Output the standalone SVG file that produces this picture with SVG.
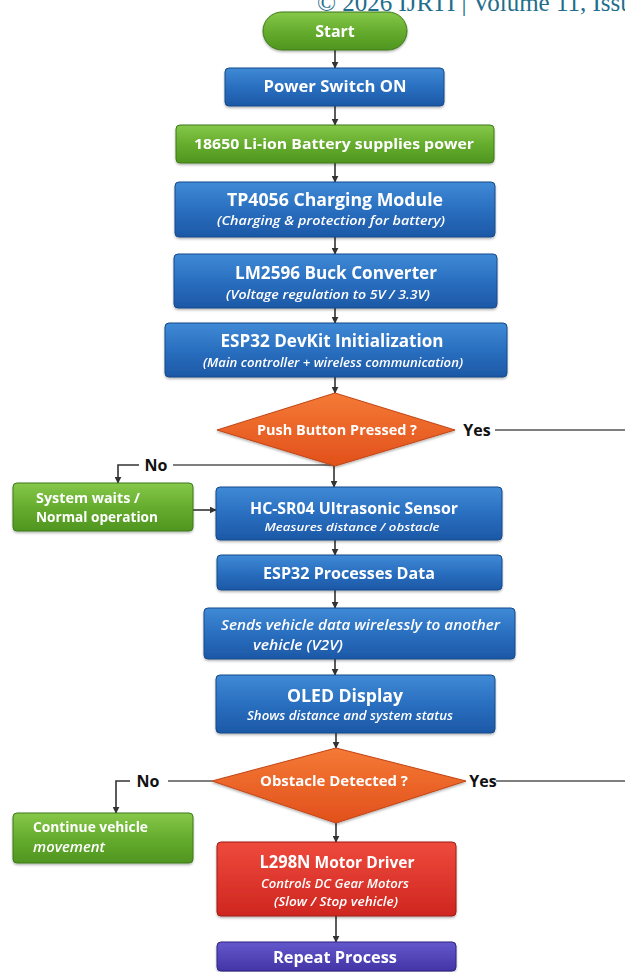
<svg xmlns="http://www.w3.org/2000/svg" width="625" height="972" viewBox="0 0 625 972">
<defs>
<linearGradient id="gBlue" x1="0" y1="0" x2="0" y2="1"><stop offset="0" stop-color="#3f8ad6"/><stop offset="0.5" stop-color="#2a6fc0"/><stop offset="1" stop-color="#1c58a6"/></linearGradient>
<linearGradient id="gGreen" x1="0" y1="0" x2="0" y2="1"><stop offset="0" stop-color="#86c84a"/><stop offset="0.5" stop-color="#66ad2e"/><stop offset="1" stop-color="#4f9520"/></linearGradient>
<linearGradient id="gOrange" x1="0" y1="0" x2="0" y2="1"><stop offset="0" stop-color="#f47a35"/><stop offset="1" stop-color="#e2501c"/></linearGradient>
<linearGradient id="gRed" x1="0" y1="0" x2="0" y2="1"><stop offset="0" stop-color="#ee4a3c"/><stop offset="1" stop-color="#cf2620"/></linearGradient>
<linearGradient id="gPurple" x1="0" y1="0" x2="0" y2="1"><stop offset="0" stop-color="#6458cc"/><stop offset="1" stop-color="#4334a6"/></linearGradient>
<marker id="arr" viewBox="0 0 10 10" refX="9" refY="5" markerWidth="7" markerHeight="7" orient="auto" markerUnits="userSpaceOnUse"><path d="M0,0 L10,5 L0,10 z" fill="#333"/></marker>
<filter id="sh" x="-10%" y="-10%" width="120%" height="130%"><feDropShadow dx="0" dy="1.5" stdDeviation="1.2" flood-color="#000" flood-opacity="0.3"/></filter>
</defs>
<style>
.blue{fill:url(#gBlue);stroke:#174a8a;stroke-width:1}
.green{fill:url(#gGreen);stroke:#3d7a18;stroke-width:1}
.orange{fill:url(#gOrange);stroke:#c24414;stroke-width:1}
.red{fill:url(#gRed);stroke:#9e1c16;stroke-width:1}
.purple{fill:url(#gPurple);stroke:#2f2580;stroke-width:1}
.t{font-family:"Open Sans","Liberation Sans",sans-serif;font-weight:700;fill:#fff;text-anchor:middle}
.s{font-family:"Open Sans","Liberation Sans",sans-serif;font-weight:600;font-style:italic;fill:#fff;text-anchor:middle}
.l{font-family:"Open Sans","Liberation Sans",sans-serif;font-weight:700;fill:#111;text-anchor:middle}
.c{fill:none;stroke:#333;stroke-width:1.6}
.g{fill:none;stroke:#555;stroke-width:1.4}
</style>
<text x="317" y="11" font-family="Liberation Serif, serif" font-size="25" fill="#1f6e8c">© 2026 IJRTI | Volume 11, Issue</text>

<g id="connectors">
<line class="c" x1="335" y1="50" x2="335" y2="68" marker-end="url(#arr)"/>
<line class="c" x1="335" y1="106" x2="335" y2="125" marker-end="url(#arr)"/>
<line class="c" x1="335" y1="163" x2="335" y2="182" marker-end="url(#arr)"/>
<line class="c" x1="335" y1="237" x2="335" y2="254" marker-end="url(#arr)"/>
<line class="c" x1="335" y1="308" x2="335" y2="323" marker-end="url(#arr)"/>
<line class="c" x1="335" y1="377" x2="335" y2="393" marker-end="url(#arr)"/>
<line class="c" x1="334" y1="466" x2="334" y2="487" marker-end="url(#arr)"/>
<line class="g" x1="495" y1="430" x2="625" y2="430"/>
<line class="g" x1="173" y1="465" x2="333" y2="465"/>
<polyline class="c" points="139,465 118,465 118,483" marker-end="url(#arr)"/>
<line class="c" x1="193" y1="510" x2="216" y2="510" marker-end="url(#arr)"/>
<line class="c" x1="335" y1="540" x2="335" y2="555" marker-end="url(#arr)"/>
<line class="c" x1="335" y1="590" x2="335" y2="608" marker-end="url(#arr)"/>
<line class="c" x1="335" y1="659" x2="335" y2="675" marker-end="url(#arr)"/>
<line class="c" x1="336" y1="733" x2="336" y2="748" marker-end="url(#arr)"/>
<line class="g" x1="496" y1="781" x2="625" y2="781"/>
<line class="g" x1="168" y1="781" x2="212" y2="781"/>
<polyline class="c" points="130,781 116,781 116,813" marker-end="url(#arr)"/>
<line class="c" x1="336" y1="823" x2="336" y2="842" marker-end="url(#arr)"/>
<line class="c" x1="336" y1="916" x2="336" y2="942" marker-end="url(#arr)"/>
<text class="l" x="477" y="436" font-size="16">Yes</text>
<text class="l" x="156" y="471" font-size="16">No</text>
<text class="l" x="483" y="787" font-size="16">Yes</text>
<text class="l" x="148" y="787" font-size="16">No</text>
</g>

<g id="start" filter="url(#sh)"><rect class="green" x="263" y="12" width="144" height="38" rx="19"/><text class="t" x="335" y="37" font-size="16">Start</text></g>
<g id="power" filter="url(#sh)"><rect class="blue" x="225" y="68" width="219" height="38" rx="4"/><text class="t" x="335" y="92" font-size="15.5" textLength="143" lengthAdjust="spacingAndGlyphs">Power Switch ON</text></g>
<g id="battery" filter="url(#sh)"><rect class="green" x="176" y="125" width="318" height="38" rx="4"/><text class="t" x="334" y="149" font-size="14.5" textLength="280" lengthAdjust="spacingAndGlyphs">18650 Li-ion Battery supplies power</text></g>
<g id="tp4056" filter="url(#sh)"><rect class="blue" x="175" y="182" width="320" height="55" rx="4"/><text class="t" x="335" y="206" font-size="17" textLength="216" lengthAdjust="spacingAndGlyphs">TP4056 Charging Module</text><text class="s" x="331" y="225" font-size="12" textLength="228" lengthAdjust="spacingAndGlyphs">(Charging &amp; protection for battery)</text></g>
<g id="lm2596" filter="url(#sh)"><rect class="blue" x="174" y="254" width="323" height="54" rx="4"/><text class="t" x="336" y="279" font-size="17.5" textLength="202" lengthAdjust="spacingAndGlyphs">LM2596 Buck Converter</text><text class="s" x="328" y="299" font-size="12.5" textLength="204" lengthAdjust="spacingAndGlyphs">(Voltage regulation to 5V / 3.3V)</text></g>
<g id="esp32init" filter="url(#sh)"><rect class="blue" x="165" y="323" width="342" height="54" rx="4"/><text class="t" x="332" y="347" font-size="17.5" textLength="223" lengthAdjust="spacingAndGlyphs">ESP32 DevKit Initialization</text><text class="s" x="333" y="367" font-size="12" textLength="260" lengthAdjust="spacingAndGlyphs">(Main controller + wireless communication)</text></g>
<g id="pushbutton" filter="url(#sh)"><polygon class="orange" points="335,393 455,430 335,466 217,430"/><text class="t" x="337" y="435" font-size="14" textLength="160" lengthAdjust="spacingAndGlyphs">Push Button Pressed ?</text></g>
<g id="systemwaits" filter="url(#sh)"><rect class="green" x="13" y="483" width="180" height="48" rx="4"/><text class="t" x="36" y="503" font-size="14.5" style="text-anchor:start" textLength="104" lengthAdjust="spacingAndGlyphs">System waits /</text><text class="t" x="36" y="522" font-size="14.5" style="text-anchor:start" textLength="122" lengthAdjust="spacingAndGlyphs">Normal operation</text></g>
<g id="hcsr04" filter="url(#sh)"><rect class="blue" x="216" y="487" width="286" height="53" rx="4"/><text class="t" x="354" y="514" font-size="16.5" textLength="208" lengthAdjust="spacingAndGlyphs">HC-SR04 Ultrasonic Sensor</text><text class="s" x="352" y="531" font-size="11.5" textLength="175" lengthAdjust="spacingAndGlyphs">Measures distance / obstacle</text></g>
<g id="esp32proc" filter="url(#sh)"><rect class="blue" x="217" y="555" width="285" height="35" rx="4"/><text class="t" x="349" y="579" font-size="16" textLength="172" lengthAdjust="spacingAndGlyphs">ESP32 Processes Data</text></g>
<g id="sends" filter="url(#sh)"><rect class="blue" x="204" y="608" width="311" height="51" rx="4"/><text class="s" x="221" y="630" font-size="14" style="text-anchor:start" textLength="279" lengthAdjust="spacingAndGlyphs">Sends vehicle data wirelessly to another</text><text class="s" x="253" y="650" font-size="14" style="text-anchor:start" textLength="90" lengthAdjust="spacingAndGlyphs">vehicle (V2V)</text></g>
<g id="oled" filter="url(#sh)"><rect class="blue" x="216" y="675" width="279" height="58" rx="4"/><text class="t" x="345" y="702" font-size="18" textLength="116" lengthAdjust="spacingAndGlyphs">OLED Display</text><text class="s" x="350" y="720" font-size="12" textLength="206" lengthAdjust="spacingAndGlyphs">Shows distance and system status</text></g>
<g id="obstacle" filter="url(#sh)"><polygon class="orange" points="336,748 466,781 336,823 212,781"/><text class="t" x="334" y="786" font-size="14" textLength="148" lengthAdjust="spacingAndGlyphs">Obstacle Detected ?</text></g>
<g id="continue" filter="url(#sh)"><rect class="green" x="13" y="813" width="180" height="50" rx="4"/><text class="t" x="33" y="832" font-size="14.5" style="text-anchor:start" textLength="115" lengthAdjust="spacingAndGlyphs">Continue vehicle</text><text class="s" x="33" y="852" font-size="14.5" style="text-anchor:start" textLength="72" lengthAdjust="spacingAndGlyphs">movement</text></g>
<g id="l298n" filter="url(#sh)"><rect class="red" x="217" y="842" width="239" height="74" rx="4"/><text class="t" x="337" y="868" font-size="16" textLength="155" lengthAdjust="spacingAndGlyphs"><tspan font-size="17">L298N</tspan> Motor Driver</text><text class="s" x="335" y="888" font-size="12" textLength="148" lengthAdjust="spacingAndGlyphs">Controls DC Gear Motors</text><text class="s" x="336" y="906" font-size="12" textLength="124" lengthAdjust="spacingAndGlyphs">(Slow / Stop vehicle)</text></g>
<g id="repeat" filter="url(#sh)"><rect class="purple" x="217" y="942" width="239" height="29" rx="4"/><text class="t" x="335" y="963" font-size="16.5" textLength="124" lengthAdjust="spacingAndGlyphs">Repeat Process</text></g>
</svg>
